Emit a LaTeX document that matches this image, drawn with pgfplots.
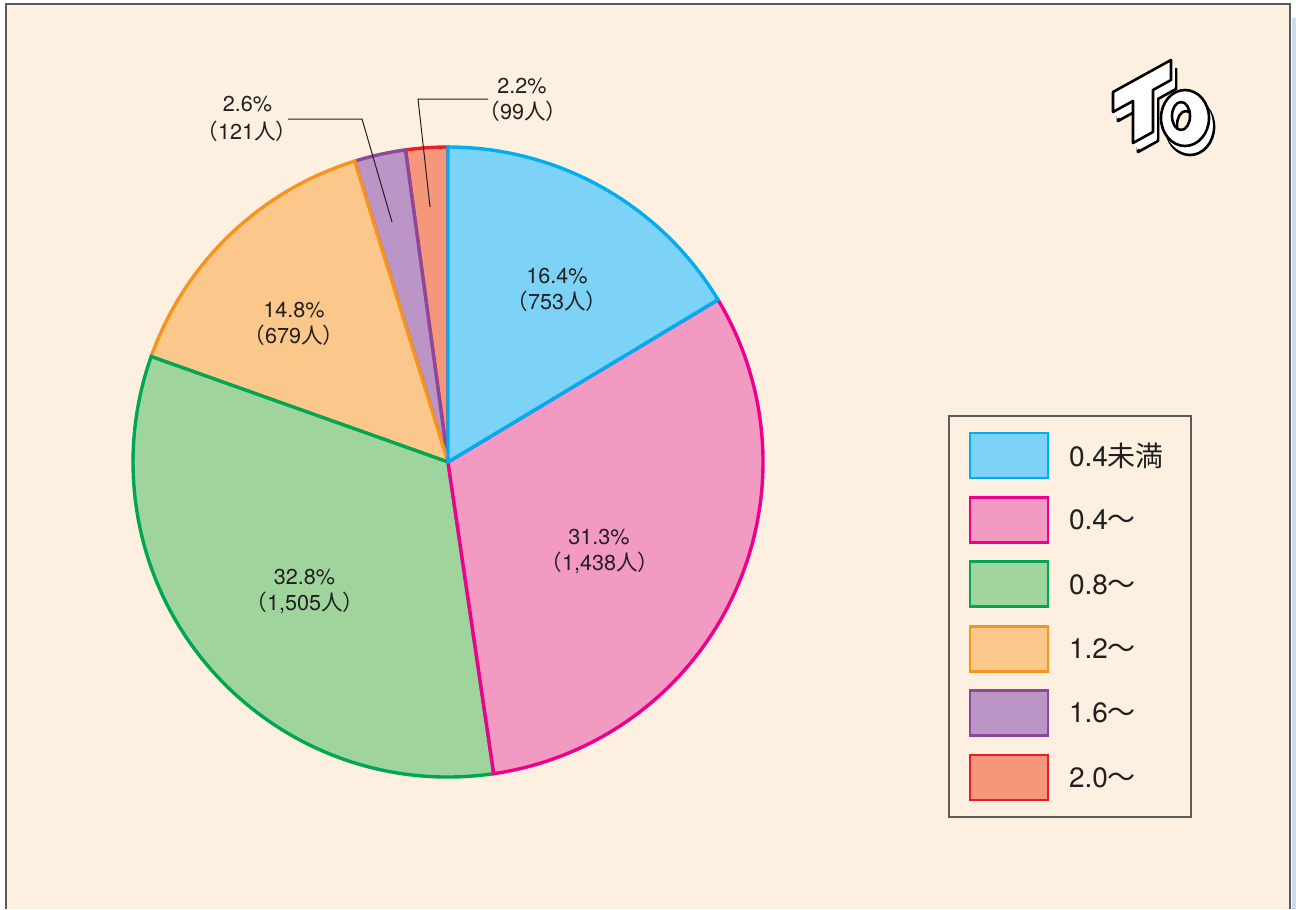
\documentclass[border=0pt]{standalone}
\usepackage{pgfplots}
\pgfplotsset{compat=1.18}
\usepackage{fontspec}
\setmainfont{TeX Gyre Heros}
\newfontfamily\jp{Noto Sans CJK JP}
\definecolor{bg}{HTML}{FEF0E0}
\definecolor{frame}{HTML}{5A5A5A}
\definecolor{txt}{HTML}{231F20}
\definecolor{fA}{HTML}{7DD3F7}\definecolor{dA}{HTML}{00AEEF}
\definecolor{fB}{HTML}{F39AC2}\definecolor{dB}{HTML}{EC008C}
\definecolor{fC}{HTML}{9FD49C}\definecolor{dC}{HTML}{00A651}
\definecolor{fD}{HTML}{FBC78A}\definecolor{dD}{HTML}{F7941D}
\definecolor{fE}{HTML}{BB95C5}\definecolor{dE}{HTML}{8E479B}
\definecolor{fF}{HTML}{F4977A}\definecolor{dF}{HTML}{ED1C24}
\definecolor{strip}{HTML}{C8DDF0}
% cumulative counts (people): 0, 753, 2191, 3696, 4375, 4496, 4595
\newcommand\slice[4]{%
  \filldraw[fill=#3, draw=#4, line width=1.7pt, line join=miter]
    (axis cs:448,462) -- (axis cs:{448+315*cos(90-#1/4595*360)},{462-315*sin(90-#1/4595*360)})
    arc[start angle={90-#1/4595*360}, end angle={90-#2/4595*360}, radius=157.5pt] -- cycle;}
\newcommand\lab[3]{\node[font=\fontsize{10.8}{13}\selectfont, text=txt] at (axis cs:#1,#2) {#3};}
\newcommand\legent[4]{%
  \filldraw[fill=#2, draw=#3, line width=1.4pt] (axis cs:970,{433+64.4*#1}) rectangle (axis cs:1048,{478+64.4*#1});
  \node[anchor=west, font=\fontsize{14}{16}\selectfont, text=txt] at (axis cs:1062,{455.5+64.4*#1}) {#4};}
\newcommand\Tpath{(axis cs:1113,92) -- (axis cs:1171,60) -- (axis cs:1171,80) -- (axis cs:1153,90) -- (axis cs:1153,132) -- (axis cs:1133,143) -- (axis cs:1133,101) -- (axis cs:1113,112) -- cycle}
\newcommand\Opath{(axis cs:1185,118) ellipse [x radius=12pt, y radius=14pt] (axis cs:1181,116) ellipse [x radius=4.5pt, y radius=7pt]}
\newcommand\extr[1]{%
  \begin{scope}[xshift=2.5pt, yshift=-4.5pt]\filldraw[fill=white, draw=black, line width=1.3pt, line join=round, even odd rule] #1;\end{scope}
  \begin{scope}[xshift=1.9pt, yshift=-3.4pt]\fill[white, even odd rule] #1;\end{scope}
  \begin{scope}[xshift=1.25pt, yshift=-2.25pt]\fill[white, even odd rule] #1;\end{scope}
  \begin{scope}[xshift=0.6pt, yshift=-1.1pt]\fill[white, even odd rule] #1;\end{scope}
  \filldraw[fill=white, draw=black, line width=1.3pt, line join=round, even odd rule] #1;}
\begin{document}
\begin{tikzpicture}
\begin{axis}[scale only axis, width=648pt, height=454.5pt,
  xmin=0, xmax=1296, ymin=0, ymax=909, y dir=reverse,
  hide axis, clip=false]
% background and frame
\fill[white] (axis cs:0,0) rectangle (axis cs:1296,909);
\fill[strip] (axis cs:1292,18) rectangle (axis cs:1296,909);
\fill[bg] (axis cs:6,4) rectangle (axis cs:1290,909);
\draw[frame, line width=1pt] (axis cs:6,909) -- (axis cs:6,4) -- (axis cs:1290,4) -- (axis cs:1290,909);
% pie slices (drawn in reverse order so that borders overlap as in the original)
\slice{4496}{4595}{fF}{dF}
\slice{4375}{4496}{fE}{dE}
\slice{3696}{4375}{fD}{dD}
\slice{2191}{3696}{fC}{dC}
\slice{753}{2191}{fB}{dB}
\slice{0}{753}{fA}{dA}
% labels inside
\lab{557}{276.5}{16.4\%}
\lab{557}{301.5}{{\jp （}753{\jp 人）}}
\lab{599}{537.5}{31.3\%}
\lab{600}{562.5}{{\jp （}1,438{\jp 人）}}
\lab{304.5}{577.5}{32.8\%}
\lab{305}{602.5}{{\jp （}1,505{\jp 人）}}
\lab{294}{310.5}{14.8\%}
\lab{294}{335.5}{{\jp （}679{\jp 人）}}
% outside labels with leader lines
\lab{247.5}{104}{2.6\%}
\lab{247}{131}{{\jp （}121{\jp 人）}}
\draw[txt, line width=0.5pt] (axis cs:288,119) -- (axis cs:362,119) -- (axis cs:392,222);
\lab{522}{86}{2.2\%}
\lab{523}{111}{{\jp （}99{\jp 人）}}
\draw[txt, line width=0.5pt] (axis cs:488,99) -- (axis cs:418,99) -- (axis cs:430,207);
% legend
\draw[frame, line width=0.6pt] (axis cs:949,416) rectangle (axis cs:1191,817);
\legent{0}{fA}{dA}{0.4{\jp 未満}}
\legent{1}{fB}{dB}{0.4{\jp ～}}
\legent{2}{fC}{dC}{0.8{\jp ～}}
\legent{3}{fD}{dD}{1.2{\jp ～}}
\legent{4}{fE}{dE}{1.6{\jp ～}}
\legent{5}{fF}{dF}{2.0{\jp ～}}
% logo
\extr{\Tpath}
\extr{\Opath}
\end{axis}
\end{tikzpicture}
\end{document}
